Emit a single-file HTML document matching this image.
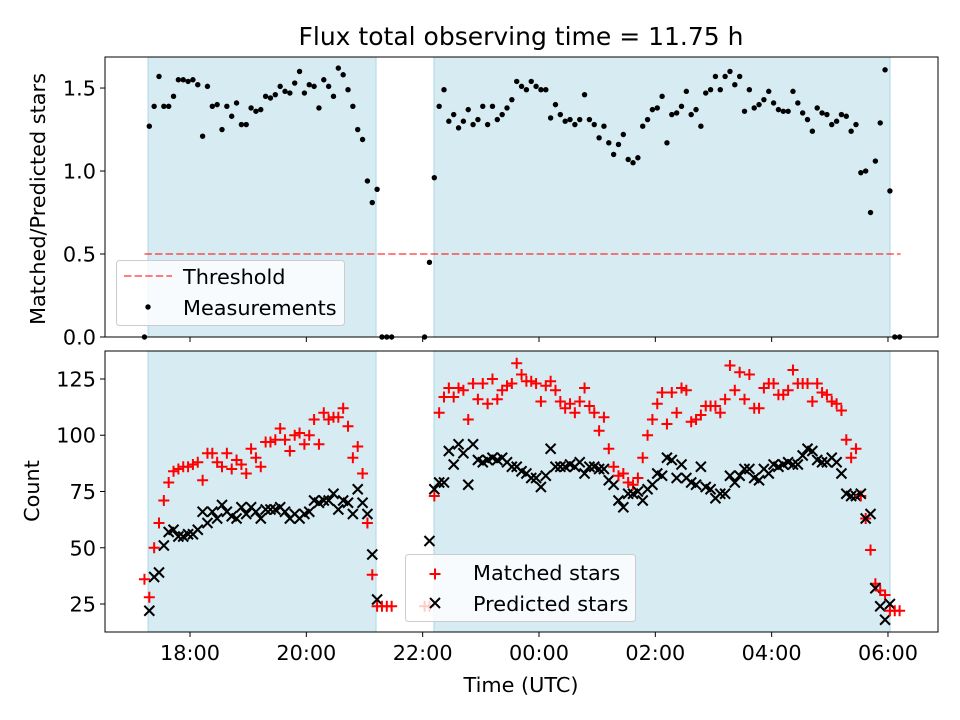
<!DOCTYPE html>
<html><head><meta charset="utf-8"><style>
html,body{margin:0;padding:0;background:#fff}
svg{display:block;font-family:"DejaVu Sans","Liberation Sans",sans-serif}
</style></head><body>
<svg id="c" width="960" height="720" viewBox="0 0 960 720"></svg>
<script>
const timesMin=[73,78,83,88,93,98,103,108,113,118,123,128,133,138,143,148,153,158,163,168,173,178,183,188,193,198,203,208,213,218,223,228,233,238,243,248,253,258,263,268,273,278,283,288,293,298,303,308,313,318,323,328,
362,367,372,377,382,387,392,397,402,407,412,417,422,427,432,437,442,447,452,457,462,467,472,477,482,487,492,497,502,507,512,517,522,527,532,537,542,547,552,557,562,567,572,577,582,587,592,597,602,607,612,617,622,627,632,637,642,647,652,657,662,667,672,677,682,687,692,697,702,707,712,717,722,727,732,737,742,747,752,757,762,767,772,777,782,787,792,797,802,807,812,817,822,827,832,837,842,847,852];
const ratioVals=[0,1.27,1.39,1.57,1.39,1.39,1.45,1.55,1.55,1.54,1.55,1.52,1.21,1.51,1.39,1.40,1.25,1.39,1.33,1.41,1.28,1.28,1.38,1.36,1.37,1.45,1.44,1.46,1.51,1.48,1.47,1.53,1.60,1.47,1.52,1.51,1.38,1.55,1.51,1.45,1.62,1.58,1.49,1.39,1.25,1.19,0.94,0.81,0.89,0,0,0,
0,0.45,0.96,1.39,1.49,1.30,1.34,1.26,1.30,1.37,1.28,1.31,1.39,1.28,1.39,1.31,1.34,1.38,1.43,1.54,1.51,1.49,1.54,1.51,1.49,1.49,1.32,1.40,1.34,1.30,1.31,1.28,1.31,1.46,1.31,1.28,1.20,1.27,1.17,1.10,1.16,1.22,1.07,1.05,1.08,1.27,1.31,1.37,1.38,1.45,1.17,1.34,1.35,1.39,1.48,1.34,1.37,1.27,1.47,1.49,1.57,1.49,1.57,1.60,1.52,1.57,1.36,1.49,1.38,1.40,1.43,1.48,1.41,1.37,1.36,1.36,1.48,1.41,1.35,1.31,1.24,1.38,1.35,1.34,1.28,1.30,1.34,1.33,1.24,1.28,0.99,1.00,0.75,1.06,1.29,1.61,0.88,0,0];
const matchedVals=[36,28,50,61,71,79,84,85,86,86,87,88,80,92,92,88,86,92,85,89,87,83,94,90,86,97,97,98,103,98,93,100,101,96,100,107,96,110,107,108,108,112,104,90,95,83,61,38,24,24,24,24,
24,24,73,110,117,121,117,121,120,107,123,116,123,114,125,116,120,122,123,132,127,124,124,123,115,122,124,120,115,112,114,110,115,121,113,110,102,108,94,86,82,83,79,78,81,90,100,107,114,119,105,119,110,121,120,106,107,109,113,113,113,110,116,131,120,128,116,127,112,112,121,123,123,118,118,120,129,123,123,123,115,123,119,118,115,114,111,98,90,94,73,63,49,34,31,29,22,22,22];
const predictedVals=[null,22,37,39,51,57,58,55,55,56,56,58,66,61,66,63,69,66,64,63,68,65,68,66,63,67,67,67,68,66,63,65,63,65,66,71,70,71,71,74,67,71,70,65,76,70,65,47,27,null,null,null,
null,53,76,79,79,93,87,96,92,78,96,89,88,89,90,89,90,88,86,86,84,83,81,81,77,82,94,86,86,86,87,86,88,83,86,86,85,85,80,78,71,68,74,74,75,71,76,78,83,82,90,89,81,87,81,79,78,86,77,76,72,74,74,82,79,82,85,85,81,80,85,83,87,86,87,88,87,87,91,94,93,89,88,88,90,88,83,74,73,73,74,63,65,32,24,18,25,null,null];
const spanStarts=[76.7,371.7];
const spanEnds=[311.9,842.1];
const threshold=0.5;
const thresholdRange=[73,853];
const xTickMin=[120,240,360,480,600,720,840];
const xTickLabels=["18:00","20:00","22:00","00:00","02:00","04:00","06:00"];
const topTicks=[0,0.5,1.0,1.5];
const topTickLabels=["0.0","0.5","1.0","1.5"];
const botTicks=[25,50,75,100,125];

const NS="http://www.w3.org/2000/svg";
const svg=document.getElementById('c');
function el(tag,attrs,parent){const e=document.createElementNS(NS,tag);for(const k in attrs)e.setAttribute(k,attrs[k]);(parent||svg).appendChild(e);return e;}
const L=105,R=938;
const xMin=32.3,xMax=891.6;
const X=m=>L+(m-xMin)/(xMax-xMin)*(R-L);
const T={top:57,bot:337,min:0,max:1.687};
const B={top:351,bot:632,min:12.56,max:137.44};
const Yt=v=>T.bot-(v-T.min)/(T.max-T.min)*(T.bot-T.top);
const Yb=v=>B.bot-(v-B.min)/(B.max-B.min)*(B.bot-B.top);
const FS=20.8;

function spans(ax,name){
  for(let i=0;i<spanStarts.length;i++){
    const r=el('rect',{x:X(spanStarts[i]),y:ax.top,width:X(spanEnds[i])-X(spanStarts[i]),height:ax.bot-ax.top,fill:'#add8e6','fill-opacity':0.5,stroke:'#add8e6','stroke-width':1});
    
    
  }
}
spans(T,'top');spans(B,'bottom');

const th=el('line',{x1:X(thresholdRange[0]),x2:X(thresholdRange[1]),y1:Yt(threshold),y2:Yt(threshold),stroke:'#ff0000','stroke-opacity':0.5,'stroke-width':2,'stroke-dasharray':'7.4,3.2'});



for(let i=0;i<timesMin.length;i++){
  const c=el('circle',{cx:X(timesMin[i]),cy:Yt(ratioVals[i]),r:2.7,fill:'#000'});
  
  
}
for(let i=0;i<timesMin.length;i++){
  const x=X(timesMin[i]);
  if(matchedVals[i]!=null){
    const y=Yb(matchedVals[i]);
    const p=el('path',{d:`M${x-5.5},${y}H${x+5.5}M${x},${y-5.5}V${y+5.5}`,stroke:'#ff0000','stroke-width':2});
    
    
  }
  if(predictedVals[i]!=null){
    const y=Yb(predictedVals[i]);
    const p=el('path',{d:`M${x-5},${y-5}L${x+5},${y+5}M${x-5},${y+5}L${x+5},${y-5}`,stroke:'#000','stroke-width':2});
    
    
  }
}

function frame(ax,name){
  const r=el('rect',{x:L,y:ax.top,width:R-L,height:ax.bot-ax.top,fill:'none',stroke:'#000','stroke-width':1});
  
  
}
frame(T,'top');frame(B,'bottom');
for(let i=0;i<topTicks.length;i++){
  const y=Yt(topTicks[i]);
  el('line',{x1:L-5,x2:L,y1:y,y2:y,stroke:'#000'});
  const t=el('text',{x:L-9,y:y+7.5,'text-anchor':'end','font-size':FS});
  t.textContent=topTickLabels[i];
  
  
}
for(let i=0;i<botTicks.length;i++){
  const y=Yb(botTicks[i]);
  el('line',{x1:L-5,x2:L,y1:y,y2:y,stroke:'#000'});
  const t=el('text',{x:L-9,y:y+7.5,'text-anchor':'end','font-size':FS});
  t.textContent=String(botTicks[i]);
  
  
}
for(let i=0;i<xTickMin.length;i++){
  const x=X(xTickMin[i]);
  el('line',{x1:x,x2:x,y1:T.bot,y2:T.bot+5,stroke:'#000'});
  el('line',{x1:x,x2:x,y1:B.bot,y2:B.bot+5,stroke:'#000'});
  const t=el('text',{x:x,y:B.bot+28,'text-anchor':'middle','font-size':FS});
  t.textContent=xTickLabels[i];
  
  
}
</script>
<svg width="960" height="720" style="position:absolute;left:0;top:0">
  <text x="521" y="45" text-anchor="middle" font-size="25" font-family="DejaVu Sans,Liberation Sans,sans-serif">Flux total observing time = 11.75 h</text>
  <text x="521" y="692" text-anchor="middle" font-size="20.8" font-family="DejaVu Sans,Liberation Sans,sans-serif">Time (UTC)</text>
  <text transform="translate(45,199) rotate(-90)" text-anchor="middle" font-size="20.8" font-family="DejaVu Sans,Liberation Sans,sans-serif">Matched/Predicted stars</text>
  <text transform="translate(39,491) rotate(-90)" text-anchor="middle" font-size="20.8" font-family="DejaVu Sans,Liberation Sans,sans-serif">Count</text>
  <g font-family="DejaVu Sans,Liberation Sans,sans-serif" font-size="20.8">
    <rect x="116.5" y="260.5" width="228" height="65" rx="3" fill="#fff" fill-opacity="0.8" stroke="#ccc"/>
    <line x1="124" x2="172" y1="276" y2="276" stroke="#ff0000" stroke-opacity="0.5" stroke-width="2" stroke-dasharray="7.4,3.2"/>
    <text x="183" y="284">Threshold</text>
    <circle cx="148" cy="307" r="2.7" fill="#000"/>
    <text x="183" y="315">Measurements</text>
  </g>
  <g font-family="DejaVu Sans,Liberation Sans,sans-serif" font-size="20.8">
    <rect x="405.5" y="554.5" width="230" height="67" rx="3" fill="#fff" fill-opacity="0.8" stroke="#ccc"/>
    <path d="M429.5,574H440.5M435,568.5V579.5" stroke="#ff0000" stroke-width="2"/>
    <text x="473" y="580">Matched stars</text>
    <path d="M430,598L440,608M430,608L440,598" stroke="#000" stroke-width="2"/>
    <text x="473" y="611">Predicted stars</text>
  </g>
</svg>
</body></html>
